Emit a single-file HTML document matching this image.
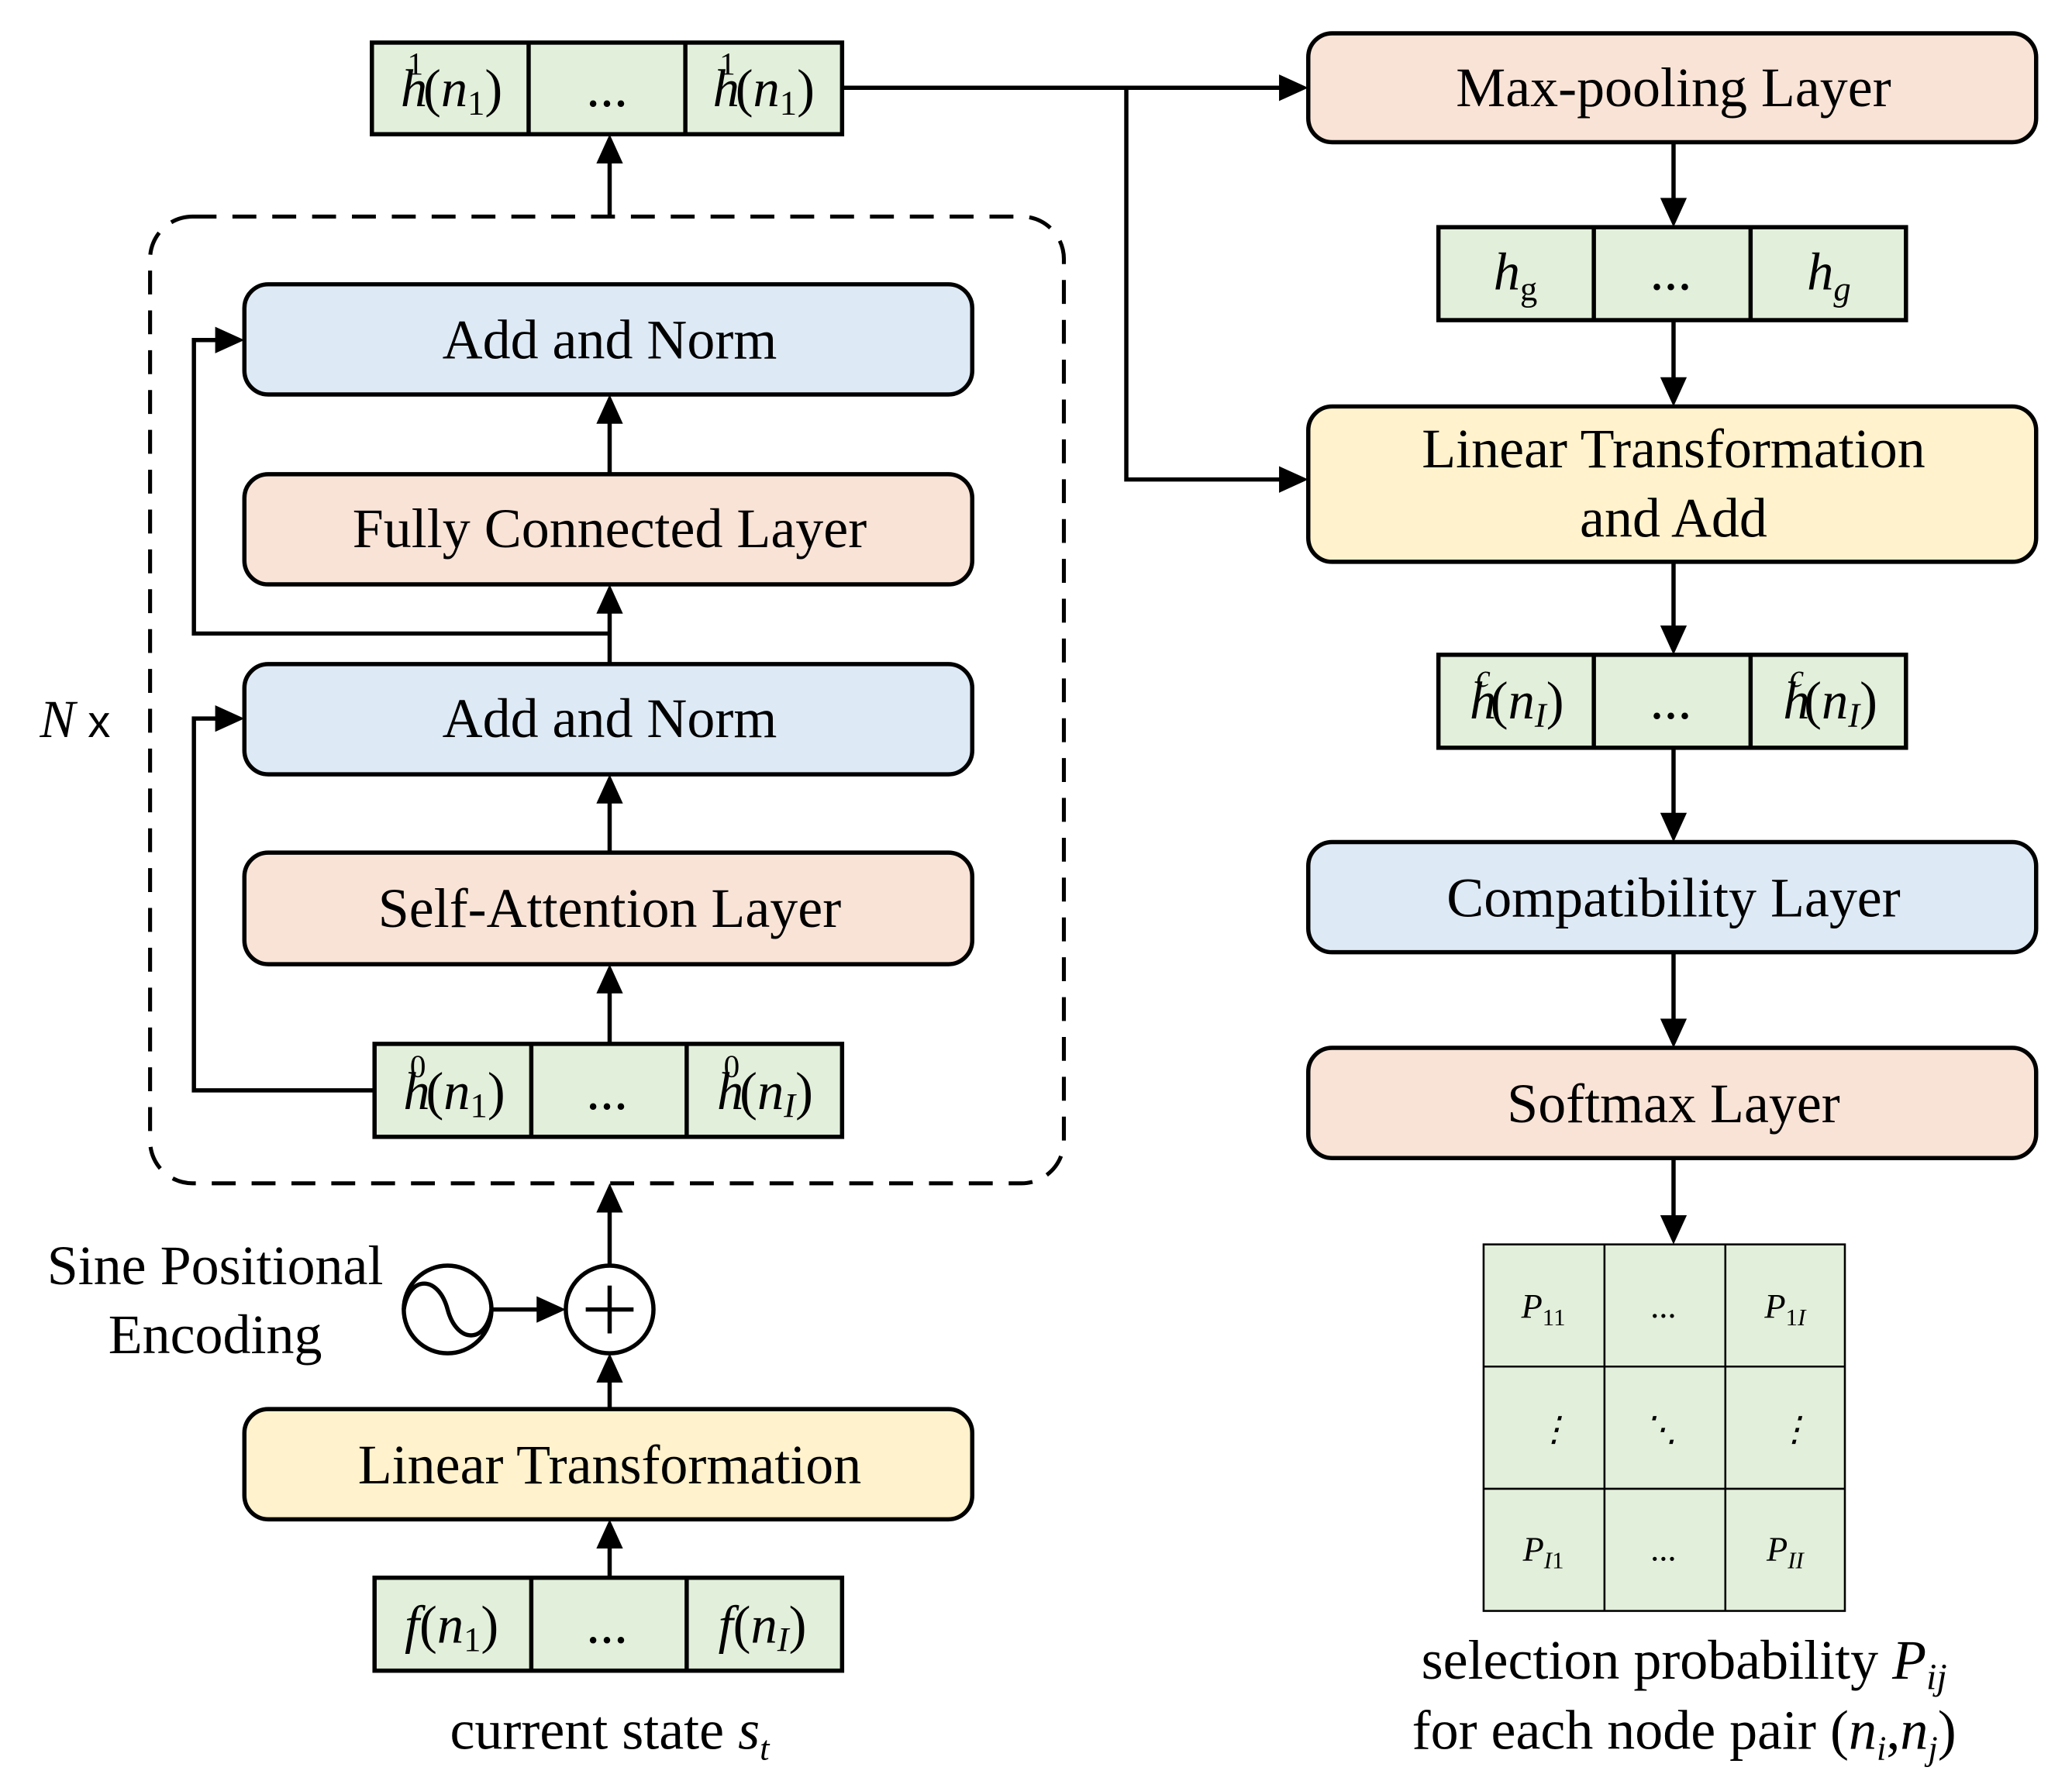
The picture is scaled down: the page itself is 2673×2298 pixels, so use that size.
<!DOCTYPE html>
<html><head><meta charset="utf-8"><style>
html,body{margin:0;padding:0;background:#fff;}
svg{display:block;}
text{font-family:"Liberation Serif",serif;fill:#000;}
.t{font-size:42px;text-anchor:middle;}
.m{font-size:40px;text-anchor:middle;font-style:italic;}
.s{font-size:26px;text-anchor:middle;font-style:italic;}
</style></head><body>
<svg width="2673" height="2298" viewBox="0 0 1560 1341" xmlns="http://www.w3.org/2000/svg">
<g stroke="#000" stroke-width="3" fill="none">
<rect x="113" y="163" width="688" height="728" rx="32" stroke-dasharray="18,12"/>
</g>
<g stroke="#000" stroke-width="3.2">
<rect x="184" y="214" width="548" height="83" rx="18" fill="#dde9f5"/>
<rect x="184" y="357" width="548" height="83" rx="18" fill="#f9e3d6"/>
<rect x="184" y="500" width="548" height="83" rx="18" fill="#dde9f5"/>
<rect x="184" y="642" width="548" height="84" rx="18" fill="#f9e3d6"/>
<rect x="184" y="1061" width="548" height="83" rx="18" fill="#fff2cc"/>
<rect x="985" y="25" width="548" height="82" rx="18" fill="#f9e3d6"/>
<rect x="985" y="306" width="548" height="117" rx="18" fill="#fff2cc"/>
<rect x="985" y="634" width="548" height="83" rx="18" fill="#dde9f5"/>
<rect x="985" y="789" width="548" height="83" rx="18" fill="#f9e3d6"/>
<rect x="280" y="32" width="354" height="69" fill="#e2efda"/>
<line x1="398" y1="32" x2="398" y2="101"/><line x1="516" y1="32" x2="516" y2="101"/>
<rect x="282" y="786" width="352" height="70" fill="#e2efda"/>
<line x1="400" y1="786" x2="400" y2="856"/><line x1="517" y1="786" x2="517" y2="856"/>
<rect x="282" y="1188" width="352" height="70" fill="#e2efda"/>
<line x1="400" y1="1188" x2="400" y2="1258"/><line x1="517" y1="1188" x2="517" y2="1258"/>
<rect x="1083" y="171" width="352" height="70" fill="#e2efda"/>
<line x1="1200" y1="171" x2="1200" y2="241"/><line x1="1318" y1="171" x2="1318" y2="241"/>
<rect x="1083" y="493" width="352" height="70" fill="#e2efda"/>
<line x1="1200" y1="493" x2="1200" y2="563"/><line x1="1318" y1="493" x2="1318" y2="563"/>
</g>
<g stroke="#000" stroke-width="1.5">
<rect x="1117" y="937" width="272" height="276" fill="#e2efda"/>
<line x1="1208" y1="937" x2="1208" y2="1213"/><line x1="1299" y1="937" x2="1299" y2="1213"/>
<line x1="1117" y1="1029" x2="1389" y2="1029"/><line x1="1117" y1="1121" x2="1389" y2="1121"/>
</g>
<g stroke="#000" stroke-width="3.2" fill="none">
<line x1="459" y1="163" x2="459" y2="118"/>
<line x1="459" y1="357" x2="459" y2="314"/>
<line x1="459" y1="500" x2="459" y2="457"/>
<polyline points="459,477 146,477 146,256 168,256"/>
<line x1="459" y1="642" x2="459" y2="600"/>
<polyline points="282,821 146,821 146,541 168,541"/>
<line x1="459" y1="786" x2="459" y2="743"/>
<line x1="459" y1="953" x2="459" y2="910"/>
<line x1="459" y1="1061" x2="459" y2="1036"/>
<line x1="459" y1="1188" x2="459" y2="1161"/>
<line x1="371" y1="986" x2="408" y2="986"/>
<circle cx="337" cy="986" r="33"/>
<circle cx="459" cy="986" r="33"/>
<line x1="441" y1="986" x2="477" y2="986"/><line x1="459" y1="968" x2="459" y2="1004"/>
<path d="M304,986 C308,960 330,960 337,986 C344,1012 366,1012 370,986" />
<polyline points="634,66 969,66"/>
<polyline points="848,66 848,361 969,361"/>
<line x1="1260" y1="107" x2="1260" y2="154"/>
<line x1="1260" y1="241" x2="1260" y2="290"/>
<line x1="1260" y1="423" x2="1260" y2="477"/>
<line x1="1260" y1="563" x2="1260" y2="618"/>
<line x1="1260" y1="717" x2="1260" y2="773"/>
<line x1="1260" y1="872" x2="1260" y2="921"/>
</g>
<g fill="#000">
<polygon points="459,101 449,123 469,123"/>
<polygon points="459,297 449,319 469,319"/>
<polygon points="459,440 449,462 469,462"/>
<polygon points="459,583 449,605 469,605"/>
<polygon points="459,726 449,748 469,748"/>
<polygon points="459,891 449,913 469,913"/>
<polygon points="459,1019 449,1041 469,1041"/>
<polygon points="459,1144 449,1166 469,1166"/>
<polygon points="184,256 162,246 162,266"/>
<polygon points="184,541 162,531 162,551"/>
<polygon points="426,986 404,976 404,996"/>
<polygon points="985,66 963,56 963,76"/>
<polygon points="985,361 963,351 963,371"/>
<polygon points="1260,171 1250,149 1270,149"/>
<polygon points="1260,306 1250,284 1270,284"/>
<polygon points="1260,493 1250,471 1270,471"/>
<polygon points="1260,634 1250,612 1270,612"/>
<polygon points="1260,789 1250,767 1270,767"/>
<polygon points="1260,937 1250,915 1270,915"/>
</g>
<text class="t" x="459" y="270">Add and Norm</text>
<text class="t" x="459" y="412">Fully Connected Layer</text>
<text class="t" x="459" y="555">Add and Norm</text>
<text class="t" x="459" y="698">Self-Attention Layer</text>
<text class="t" x="459" y="1117">Linear Transformation</text>
<text class="t" x="1260" y="80">Max-pooling Layer</text>
<text class="t" x="1260" y="352">Linear Transformation</text>
<text class="t" x="1260" y="404">and Add</text>
<text class="t" x="1260" y="690">Compatibility Layer</text>
<text class="t" x="1260" y="845">Softmax Layer</text>
<text class="t" x="162" y="967">Sine Positional</text>
<text class="t" x="162" y="1019">Encoding</text>
<text class="t" x="459" y="1317">current state <tspan font-style="italic">s</tspan><tspan font-style="italic" font-size="26" dy="8">t</tspan></text>
<text class="t" x="1268" y="1264">selection probability <tspan font-style="italic">P</tspan><tspan font-style="italic" font-size="28" dy="8">ij</tspan></text>
<text class="t" x="1268" y="1317">for each node pair (<tspan font-style="italic">n</tspan><tspan font-style="italic" font-size="26" dy="8">i</tspan><tspan dy="-8">,</tspan><tspan font-style="italic">n</tspan><tspan font-style="italic" font-size="26" dy="8">j</tspan><tspan dy="-8">)</tspan></text>
<text x="30" y="555" style="font-size:40px"><tspan font-style="italic">N</tspan><tspan font-family="Liberation Sans" font-size="34"> x</tspan></text>
<text class="m" x="340" y="80">h<tspan font-style="normal" font-size="24" dx="-15" dy="-24">1</tspan><tspan font-style="normal" dy="24">(</tspan>n<tspan font-style="normal" font-size="26" dy="6">1</tspan><tspan font-style="normal" dy="-6">)</tspan></text>
<text class="t" x="457" y="80">...</text>
<text class="m" x="575" y="80">h<tspan font-style="normal" font-size="24" dx="-15" dy="-24">1</tspan><tspan font-style="normal" dy="24">(</tspan>n<tspan font-style="normal" font-size="26" dy="6">1</tspan><tspan font-style="normal" dy="-6">)</tspan></text>
<text class="m" x="342" y="835">h<tspan font-style="normal" font-size="24" dx="-15" dy="-24">0</tspan><tspan font-style="normal" dy="24">(</tspan>n<tspan font-style="normal" font-size="26" dy="6">1</tspan><tspan font-style="normal" dy="-6">)</tspan></text>
<text class="t" x="457" y="835">...</text>
<text class="m" x="576" y="835">h<tspan font-style="normal" font-size="24" dx="-15" dy="-24">0</tspan><tspan font-style="normal" dy="24">(</tspan>n<tspan font-size="26" dy="6">I</tspan><tspan font-style="normal" dy="-6">)</tspan></text>
<text class="m" x="340" y="1237">f<tspan font-style="normal">(</tspan>n<tspan font-style="normal" font-size="26" dy="6">1</tspan><tspan font-style="normal" dy="-6">)</tspan></text>
<text class="t" x="457" y="1237">...</text>
<text class="m" x="574" y="1237">f<tspan font-style="normal">(</tspan>n<tspan font-size="26" dy="6">I</tspan><tspan font-style="normal" dy="-6">)</tspan></text>
<text class="m" x="1141" y="218">h<tspan font-style="normal" font-size="26" dy="8">g</tspan></text>
<text class="t" x="1258" y="218">...</text>
<text class="m" x="1377" y="218">h<tspan font-size="26" dy="8">g</tspan></text>
<text class="m" x="1142" y="541">h<tspan font-size="24" dx="-15" dy="-24">c</tspan><tspan font-style="normal" dy="24">(</tspan>n<tspan font-size="26" dy="6">I</tspan><tspan font-style="normal" dy="-6">)</tspan></text>
<text class="t" x="1258" y="541">...</text>
<text class="m" x="1378" y="541">h<tspan font-size="24" dx="-15" dy="-24">c</tspan><tspan font-style="normal" dy="24">(</tspan>n<tspan font-size="26" dy="6">I</tspan><tspan font-style="normal" dy="-6">)</tspan></text>
<text class="s" x="1162" y="992">P<tspan font-style="normal" font-size="18" dy="6">11</tspan></text>
<text class="s" x="1253" y="992" font-style="normal">...</text>
<text class="s" x="1344" y="992">P<tspan font-style="normal" font-size="18" dy="6">1</tspan><tspan font-size="18">I</tspan></text>
<text class="s" x="1170" y="1085" font-style="normal">⋮</text>
<text class="s" x="1250" y="1085" font-style="normal">⋱</text>
<text class="s" x="1351" y="1085" font-style="normal">⋮</text>
<text class="s" x="1162" y="1175">P<tspan font-size="18" dy="6">I</tspan><tspan font-style="normal" font-size="18">1</tspan></text>
<text class="s" x="1253" y="1175" font-style="normal">...</text>
<text class="s" x="1344" y="1175">P<tspan font-size="18" dy="6">II</tspan></text>
</svg>
</body></html>
